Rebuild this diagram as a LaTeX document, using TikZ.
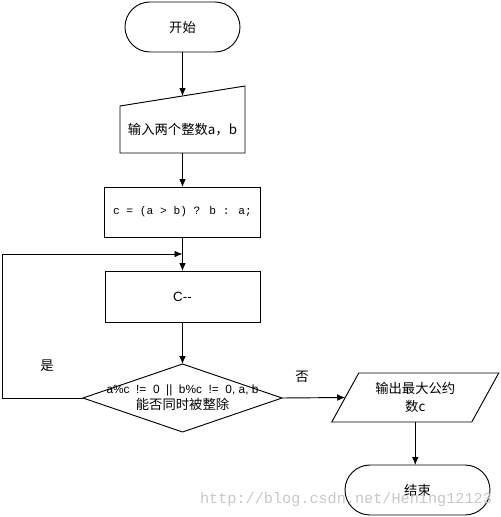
\documentclass[tikz,border=0pt]{standalone}
\usepackage{fontspec}
\setmainfont{Liberation Sans}
\newfontfamily\cjk{Noto Sans CJK SC}
\newfontfamily\monof{Liberation Mono}
\usetikzlibrary{arrows.meta,calc}
\begin{document}
\begin{tikzpicture}[x=0.75pt,y=-0.75pt,
  every node/.style={inner sep=0pt,outer sep=0pt,font=\fontsize{10}{12}\selectfont},
  outline/.style={draw=black,line width=0.7pt},
  term/.style={outline,rounded corners=18.75pt,minimum height=37.5pt},
  procbox/.style={outline,minimum height={50*0.75pt}},
  arr/.style={-{Latex[length=6pt,width=5pt]},line width=0.7pt},
  lbl/.style={font=\cjk\fontsize{10}{12}\selectfont}]
\useasboundingbox (0,0) rectangle (500,517);
% nodes
\node[term,minimum width={115*0.75pt}] (start) at (182.5,27) {\cjk 开始};
\node[minimum width={125*0.75pt},minimum height={47*0.75pt}] (inp) at (182.5,129.5) {\cjk 输入两个整数a，b};
\draw[outline] (inp.south west) -- (inp.south east) -- ($(inp.north east)+(0,-20)$) -- (inp.north west) -- cycle;
\coordinate (inptop) at ($(inp.north)+(0,-10)$);
\node[procbox,minimum width={156*0.75pt}] (calcb) at (182.5,212) {\monof\fontsize{8.4}{10}\selectfont c = (a > b) ? b : a;};
\node[procbox,minimum width={155*0.75pt},minimum height={51*0.75pt}] (cbox) at (182.5,296.5) {C-{}-};
\node[minimum width={199*0.75pt},minimum height={68*0.75pt},align=center] (dia) at (182.5,398)
  {{\fontsize{8.9}{11.25}\selectfont a\%c\ \ !=\ \ 0\ \ ||\ \ b\%c\ \ !=\ \ 0, a, b}\\{\cjk 能否同时被整除}};
\draw[outline] (dia.north) -- (dia.east) -- (dia.south) -- (dia.west) -- cycle;
\node[minimum width={140*0.75pt},minimum height={49*0.75pt},align=center] (outp) at (415.25,397.5)
  {\cjk 输出最大公约\\[1pt]\cjk 数c};
\draw[outline] ($(outp.north west)+(13.5,0)$) -- ($(outp.north east)+(13.5,0)$) -- ($(outp.south east)+(-13.5,0)$) -- ($(outp.south west)+(-13.5,0)$) -- cycle;
\node[term,minimum width={145*0.75pt}] (endn) at (417.5,490) {\cjk 结束};
% labels
\node[lbl] (yes) at (47,366) {是};
\node[lbl] (no) at (302,377) {否};
% connectors
\coordinate (join) at (182.5,254);
\coordinate (lft) at (2,0);
\draw[arr] (start.south) -- (inptop);
\draw[arr] (inp.south) -- (calcb.north);
\draw[line width=0.7pt] (calcb.south) -- (join);
\draw[arr] (join) -- (cbox.north);
\draw[arr] (dia.west) -- (dia.west -| lft) |- (join);
\draw[arr] (cbox.south) -- (dia.north);
\draw[arr] (dia.east) -- (outp.west);
\draw[arr] (outp.south) -- (outp.south |- endn.north);
% watermark
\node[text=black!22,font=\monof\fontsize{11.4}{13}\selectfont] (wm) at (346,500) {http://blog.csdn.net/Hening12123};
\end{tikzpicture}
\end{document}
